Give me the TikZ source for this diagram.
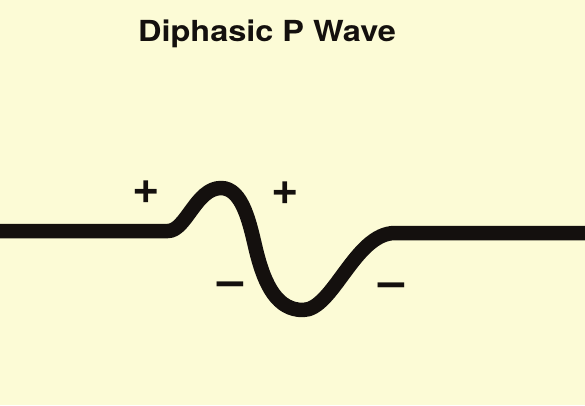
\documentclass[tikz,border=0pt]{standalone}
\usepackage{fontspec}
\setmainfont{TeX Gyre Heros}
\definecolor{bgyellow}{RGB}{252,251,214}
\definecolor{ink}{RGB}{20,16,14}
\begin{document}
\begin{tikzpicture}[x=1pt,y=-1pt,
  wave/.style={draw=ink,line width=14.5pt,line cap=butt,line join=round},
  sign/.style={text=ink,font=\fontsize{47}{47}\selectfont\bfseries,inner sep=0pt,anchor=center},
  title/.style={text=ink,font=\fontsize{29}{30}\selectfont\bfseries,inner sep=0pt,xscale=1.12}]
\useasboundingbox[fill=bgyellow] (0,0) rectangle (585,405);
\node[title] (t) at (267,34) {Diphasic P Wave};
\coordinate (w0) at (-5,231);
\coordinate (w1) at (168,231);
\coordinate (pk) at (221,188);
\coordinate (ip) at (256,250);
\coordinate (tr) at (303,310);
\coordinate (w5) at (395,233);
\coordinate (w6) at (590,233);
\draw[wave] (w0) -- (w1)
  .. controls (186,231) and (196,188) .. (pk)
  .. controls (243,188) and (250,225) .. (ip)
  .. controls (265,287) and (278,310) .. (tr)
  .. controls (333,310) and (355,233) .. (w5)
  -- (w6);
\node[sign] (p1) at (146,192) {+};
\node[sign] (p2) at (285,193) {+};
\node[sign] (m1) at (231,289) {–};
\node[sign] (m2) at (392,290) {–};
\end{tikzpicture}
\end{document}
